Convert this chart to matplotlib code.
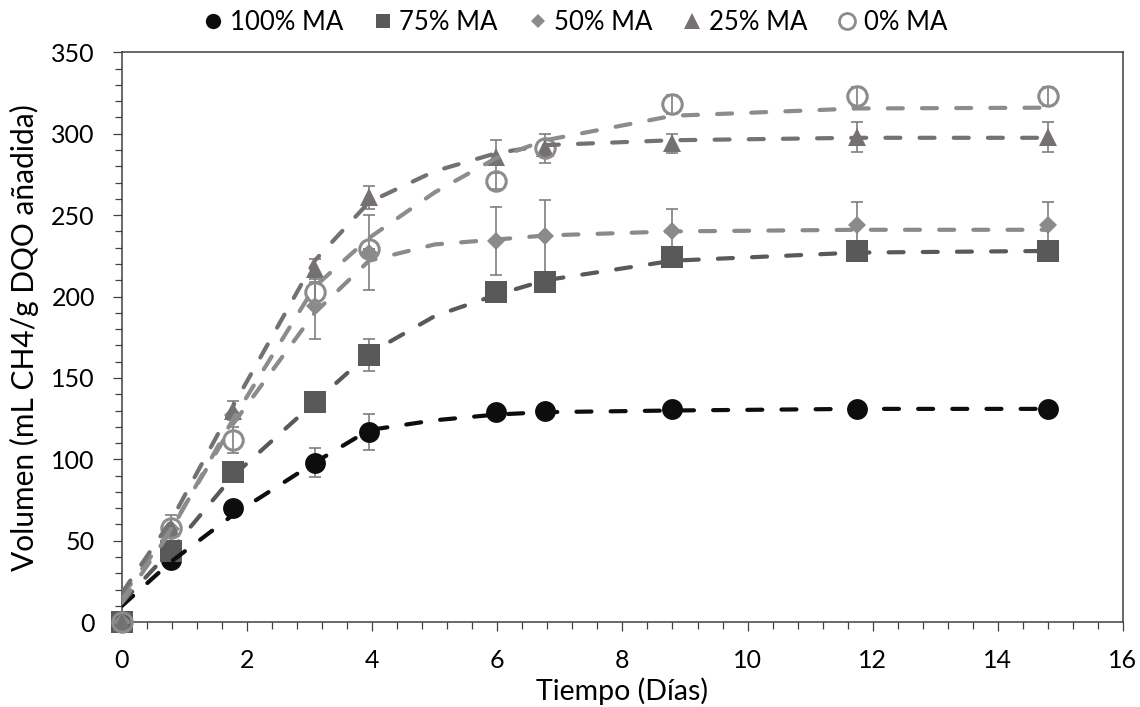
import matplotlib
matplotlib.use('Agg')

import numpy as np
import matplotlib.pyplot as plt
from matplotlib.lines import Line2D
from matplotlib.ticker import MultipleLocator

plt.rcParams['font.family'] = ['Lato', 'DejaVu Sans']
plt.rcParams['font.size'] = 18

# measured points (days)
dias = [0, 0.78, 1.78, 3.08, 3.95, 5.98, 6.77, 8.8, 11.75, 14.8]

ma100 = [0, 38, 70, 98, 117, 129, 130, 131, 131, 131]
ma75 = [0, 44, 92, 135, 164, 203, 209, 224, 228, 228]
ma50 = [0, 57, 127, 194, 227, 234, 237, 240, 244, 244]
ma25 = [0, 58, 130, 217, 261, 286, 291, 294, 298, 298]
ma0 = [0, 58, 112, 203, 229, 271, 291, 318, 323, 323]

err100 = [0, 0, 0, 9, 11, 0, 0, 0, 0, 0]
err75 = [0, 0, 0, 0, 10, 0, 0, 0, 0, 0]
err50 = [0, 0, 0, 20, 23, 21, 22, 14, 14, 14]
err25 = [0, 0, 6, 6, 7, 10, 9, 6, 9, 9]
err0 = [0, 8, 8, 6, 0, 5, 5, 6, 6, 6]

# model curves (dashed)
dias_fit = [0, 0.78, 1.78, 3.08, 3.95, 5.0, 5.98, 6.77, 8.8, 11.75, 14.8]
fit100 = [10, 37, 66, 98, 118, 124, 127.5, 129, 130, 131, 131]
fit75 = [12, 44, 90, 135, 165, 188, 201, 210, 222, 227, 228]
fit50 = [16, 57, 122, 190, 222, 232, 235, 237.5, 240, 241, 241]
fit25 = [18, 62, 133, 222, 258, 277, 288, 293, 296, 297.5, 297.5]
fit0 = [12, 56, 125, 206, 236, 264, 285, 296, 311, 315.5, 316]

etiquetas = ['100% MA', '75% MA', '50% MA', '25% MA', '0% MA']

fig = plt.figure(figsize=(11.4, 7.07), dpi=100)
ax = fig.add_axes([0.107, 0.12, 0.878, 0.806])

err_color = '#7f7f7f'
series = [
    (ma100, err100, dict(marker='o', ms=15, mfc='#0d0d0d', mec='#0d0d0d', mew=0)),
    (ma75, err75, dict(marker='s', ms=15.5, mfc='#595959', mec='#595959', mew=0)),
    (ma50, err50, dict(marker='D', ms=9.2, mfc='#8a8a8a', mec='#8a8a8a', mew=0)),
    (ma25, err25, dict(marker='^', ms=13, mfc='#767171', mec='#767171', mew=0)),
    (ma0, err0, dict(marker='o', ms=14, mfc='none', mec='#8c8c8c', mew=2.2)),
]
for y, e, st in series:
    ax.errorbar(dias, y, yerr=e, fmt='none', ecolor=err_color, elinewidth=1.2,
                capsize=4.5, capthick=1.2, zorder=2)
    ax.plot(dias, y, linestyle='none', zorder=3, clip_on=False, **st)

fits = [(fit100, '#0d0d0d'), (fit75, '#595959'), (fit50, '#8a8a8a'),
        (fit25, '#767171'), (fit0, '#8c8c8c')]
for f, c in fits:
    ax.plot(dias_fit, f, color=c, lw=3.0, dashes=(3.6, 4.6),
            dash_capstyle='round', zorder=4)

ax.set_xlim(0, 16)
ax.set_ylim(0, 350)
ax.xaxis.set_major_locator(MultipleLocator(2))
ax.xaxis.set_minor_locator(MultipleLocator(0.4))
ax.yaxis.set_major_locator(MultipleLocator(50))
ax.yaxis.set_minor_locator(MultipleLocator(10))
ax.tick_params(which='major', direction='out', length=6.5, width=0.9, color='#404040')
ax.tick_params(which='minor', direction='out', length=5, width=0.9, color='#404040')
ax.tick_params(axis='x', which='major', pad=13)
ax.tick_params(axis='y', which='major', pad=13)
for s in ax.spines.values():
    s.set_linewidth(1.1)
    s.set_color('#404040')

ax.set_xlabel('Tiempo (Días)', labelpad=4, fontsize=20.5)
ax.set_ylabel('Volumen (mL CH4/g DQO añadida)', labelpad=9, fontsize=21.5)

handles = [
    Line2D([], [], linestyle='none', marker='o', ms=11, mfc='#0d0d0d', mec='#0d0d0d', mew=0),
    Line2D([], [], linestyle='none', marker='s', ms=10.5, mfc='#595959', mec='#595959', mew=0),
    Line2D([], [], linestyle='none', marker='D', ms=7, mfc='#8a8a8a', mec='#8a8a8a', mew=0),
    Line2D([], [], linestyle='none', marker='^', ms=12, mfc='#767171', mec='#767171', mew=0),
    Line2D([], [], linestyle='none', marker='o', ms=11.5, mfc='none', mec='#8c8c8c', mew=2),
]
fig.legend(handles, etiquetas, loc='center', bbox_to_anchor=(0.505, 0.968), ncol=5,
           frameon=False, handletextpad=0.3, columnspacing=1.2, handlelength=0.7,
           fontsize=18.5)

fig.savefig('out.png', dpi=100)
